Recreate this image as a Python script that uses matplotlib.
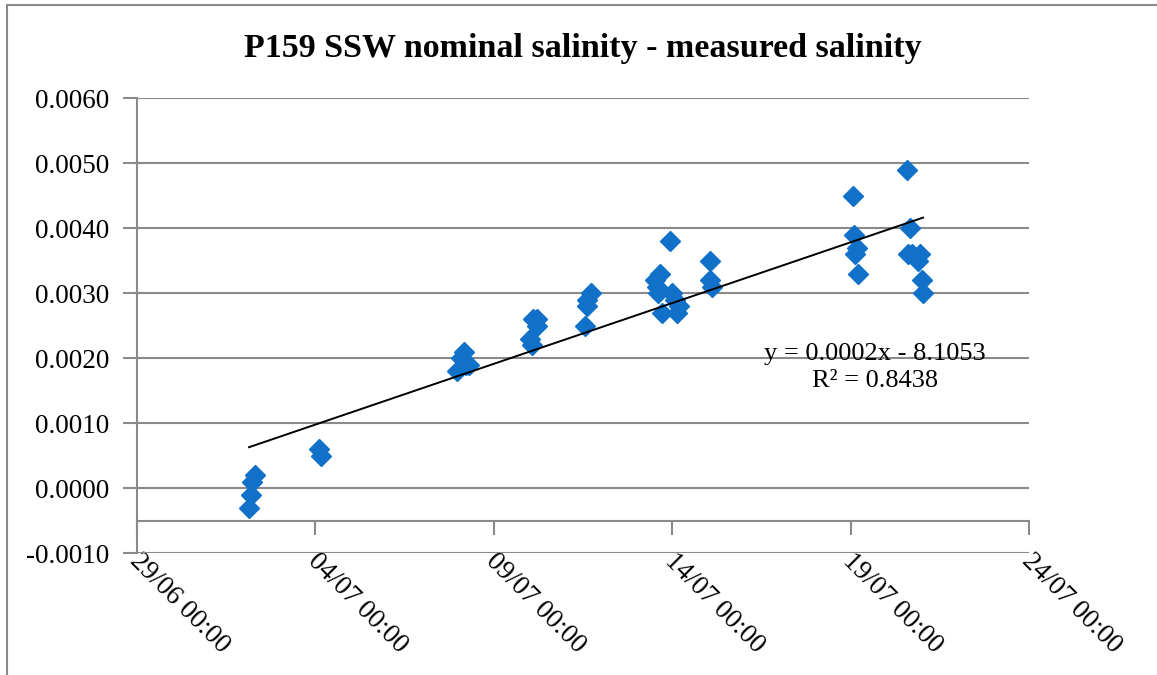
import numpy as np
import pandas as pd
import matplotlib
matplotlib.use("Agg")
from matplotlib import pyplot as plt, dates as mdates
from matplotlib.patches import Rectangle
from matplotlib.transforms import ScaledTranslation

# sample times and nominal - measured salinity
times = [
    "2013-07-02 03:22", "2013-07-02 04:48", "2013-07-02 05:17", "2013-07-02 07:26",
    "2013-07-04 02:24", "2013-07-04 03:50",
    "2013-07-07 23:17", "2013-07-08 01:55", "2013-07-08 03:50", "2013-07-08 05:17", "2013-07-08 07:12",
    "2013-07-10 00:14", "2013-07-10 01:41", "2013-07-10 02:24", "2013-07-10 05:02", "2013-07-10 05:10",
    "2013-07-11 13:26", "2013-07-11 14:38", "2013-07-11 14:45", "2013-07-11 17:17",
    "2013-07-13 12:29", "2013-07-13 13:41", "2013-07-13 14:24", "2013-07-13 15:50", "2013-07-13 17:02",
    "2013-07-13 22:34", "2013-07-13 23:46", "2013-07-14 01:55", "2013-07-14 03:07", "2013-07-14 04:34",
    "2013-07-15 01:26", "2013-07-15 01:35", "2013-07-15 02:53",
    "2013-07-19 01:41", "2013-07-19 02:24", "2013-07-19 02:53", "2013-07-19 04:19", "2013-07-19 05:02",
    "2013-07-20 13:55", "2013-07-20 14:38", "2013-07-20 15:50", "2013-07-20 17:17",
    "2013-07-20 21:22", "2013-07-20 22:34", "2013-07-21 00:00", "2013-07-21 00:43",
]
sal_diff = [
    -0.0003, -0.0001, 0.0001, 0.0002,
    0.0006, 0.0005,
    0.0018, 0.0020, 0.0021, 0.0019, 0.0019,
    0.0023, 0.0022, 0.0026, 0.0026, 0.0025,
    0.0025, 0.0028, 0.0029, 0.0030,
    0.0032, 0.0031, 0.0030, 0.0033, 0.0027,
    0.0038, 0.0030, 0.0029, 0.0027, 0.0028,
    0.0035, 0.0032, 0.0031,
    0.0045, 0.0039, 0.0036, 0.0037, 0.0033,
    0.0049, 0.0036, 0.0040, 0.0036,
    0.0035, 0.0036, 0.0032, 0.0030,
]
x_start, x_end = "2013-06-29", "2013-07-24"
y_ticks = np.arange(-0.001, 0.00601, 0.001)

t = pd.to_datetime(times)
xn = mdates.date2num(t)
y = np.array(sal_diff)

fig = plt.figure(figsize=(11.57, 6.75), dpi=100)
ax = fig.add_axes([0.1184, 0.1807, 0.771, 0.6741])

grey = "#8a8a8a"
serif = "Liberation Serif"

ax.plot(t, y, "D", color="#1170c8", ms=10.2, mec="#1170c8", zorder=3)

# linear trend
k, b = np.polyfit(xn, y, 1)
xl = np.array([xn.min(), xn.max()])
ax.plot(mdates.num2date(xl), k * xl + b, color="black", lw=1.4, zorder=4)

ax.set_xlim(pd.Timestamp(x_start), pd.Timestamp(x_end))
ax.set_ylim(-0.001, 0.006)
ax.set_yticks(y_ticks)
ax.yaxis.set_major_formatter(plt.FuncFormatter(lambda v, p: f"{v:.4f}"))
ax.xaxis.set_major_locator(mdates.DayLocator(bymonthday=[4, 9, 14, 19, 24, 29]))
ax.xaxis.set_major_formatter(mdates.DateFormatter("%d/%m %H:%M"))

ax.grid(axis="y", color=grey, lw=1.5)
ax.set_axisbelow(True)
for sp in ["top", "right", "bottom"]:
    ax.spines[sp].set_visible(False)
ax.spines["left"].set_color(grey)
ax.spines["left"].set_linewidth(1.5)

ax.tick_params(axis="y", length=10, width=1.5, color=grey, pad=10,
               labelsize=19.5, direction="out")
ax.tick_params(axis="x", length=0, pad=0, labelsize=19.5)
for lab in ax.get_yticklabels():
    lab.set_fontfamily(serif)
shift = ScaledTranslation(5 / 100, 4 / 100, fig.dpi_scale_trans)
for lab in ax.get_xticklabels():
    lab.set_fontfamily(serif)
    lab.set_rotation(-45)
    lab.set_ha("left")
    lab.set_va("top")
    lab.set_rotation_mode("anchor")
    lab.set_transform(lab.get_transform() + shift)

# horizontal axis line crossing at -0.0005 with its own tick marks
sec = ax.secondary_xaxis(0.5 / 7)
sec.xaxis.set_major_locator(mdates.DayLocator(bymonthday=[4, 9, 14, 19, 24, 29]))
sec.tick_params(axis="x", length=10, width=1.5, color=grey, labelbottom=False,
                direction="out")
sec.spines["bottom"].set_color(grey)
sec.spines["bottom"].set_linewidth(1.5)

ax.text(0.827, 0.408, "y = 0.0002x - 8.1053\nR\u00b2 = 0.8438",
        transform=ax.transAxes, ha="center", va="center", multialignment="center",
        fontsize=19, family=serif, linespacing=1.3)

fig.text(0.504, 1 - 49 / 675, "P159 SSW nominal salinity - measured salinity",
         ha="center", va="center", fontsize=24.5, fontweight="bold", family=serif)

# chart area frame
fig.patches.append(Rectangle((7 / 1157, -0.1), 1.2, 0.1 + (675 - 5) / 675,
                             transform=fig.transFigure, fill=False,
                             edgecolor=grey, lw=1.5))

fig.savefig("out.png", dpi=100)
